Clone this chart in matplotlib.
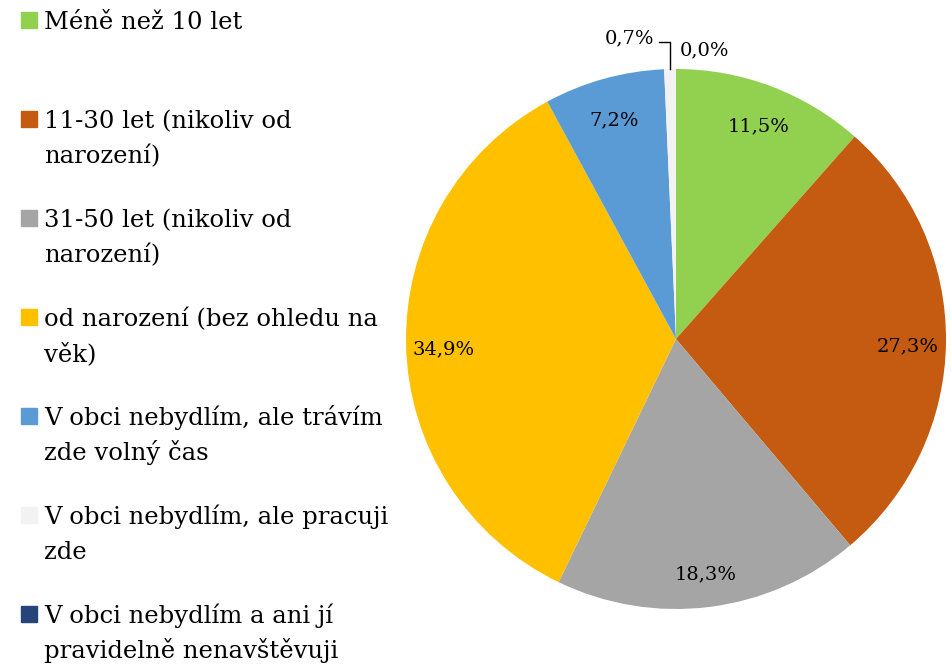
import numpy as np
import matplotlib.pyplot as plt
from matplotlib.patches import Rectangle

categories = ["Méně než 10 let",
              "11-30 let (nikoliv od\nnarození)",
              "31-50 let (nikoliv od\nnarození)",
              "od narození (bez ohledu na\nvěk)",
              "V obci nebydlím, ale trávím\nzde volný čas",
              "V obci nebydlím, ale pracuji\nzde",
              "V obci nebydlím a ani jí\npravidelně nenavštěvuji"]
values = [11.5, 27.3, 18.3, 34.9, 7.2, 0.7, 0.0]
colors = ["#92D050", "#C55A11", "#A5A5A5", "#FFC000", "#5B9BD5", "#F2F2F2", "#264478"]

plt.rcParams['font.family'] = ['DejaVu Serif']

fig = plt.figure(figsize=(9.51, 6.65), dpi=100)
W, H = 951, 665
cx, cy, r = 676, 339, 270
ax = fig.add_axes([(cx - r) / W, (H - cy - r) / H, 2 * r / W, 2 * r / H])
ax.pie(values, colors=colors, startangle=90, counterclock=False,
       wedgeprops=dict(linewidth=0))
ax.set_xlim(-1, 1)
ax.set_ylim(-1, 1)

def fmt(v):
    return f"{v:.1f}".replace('.', ',') + '%'

total = sum(values)
cum = 0
for i, v in enumerate(values):
    mid = (cum + v / 2) / total * 360
    cum += v
    th = np.deg2rad(90 - mid)
    if v >= 1:
        d = 0.86
        ax.text(d * np.cos(th), d * np.sin(th) - 0.01, fmt(v), ha='center', va='center_baseline', fontsize=14)
    elif i == 5:
        x0, y0 = np.cos(th), np.sin(th)
        ax.plot([x0, x0, x0 - 0.04], [y0, y0 + 0.1, y0 + 0.1], color='black', lw=1, clip_on=False)
        ax.text(x0 - 0.06, y0 + 0.115, fmt(v), ha='right', va='center', fontsize=14)
    else:
        ax.text(0.015, 1.07, fmt(v), ha='left', va='center', fontsize=14)

# legend
y_base = 29
step = 99
line_h = 35
for i, (lab, col) in enumerate(zip(categories, colors)):
    y = y_base + i * step
    fig.patches.append(Rectangle((21 / W, 1 - (y - 1) / H), 16 / W, 16 / H,
                                 transform=fig.transFigure, color=col))
    for j, part in enumerate(lab.split("\n")):
        fig.text(44 / W, 1 - (y + j * line_h) / H, part, ha='left', va='baseline',
                 fontsize=17.5)

fig.savefig("out.png", dpi=100)
